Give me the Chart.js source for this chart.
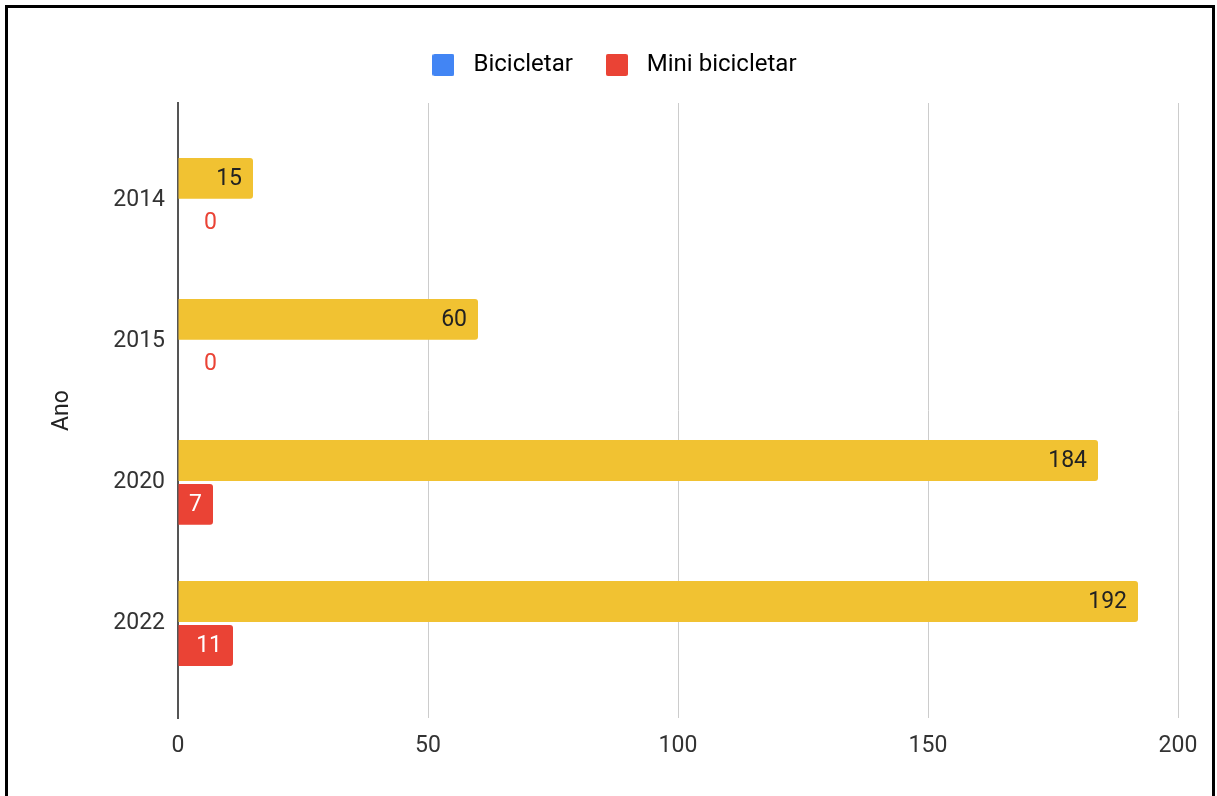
<!DOCTYPE html>
<html lang="pt-br">
<head>
  <meta charset="UTF-8" />
  <title>Bicicletar por ano</title>
  <style>
    body {
      margin: 0;
      background: #ffffff;
      font-family: Roboto, sans-serif;
    }

    .moldura {
      position: absolute;
      left: 5px;
      top: 5px;
      width: 1210px;
      height: 830px;
      border: 3px solid #000;
      box-sizing: border-box;
      pointer-events: none;
    }

    .area {
      position: absolute;
      left: 0;
      top: 0;
      width: 1217px;
      height: 796px;
    }
  </style>
</head>
<body>
  <div class="area"><canvas id="grafico"></canvas></div>
  <div class="moldura"></div>

  <script src="https://cdn.jsdelivr.net/npm/chart.js"></script>
  <script>
    const anos = ['2014', '2015', '2020', '2022'];
    const bicicletar = [15, 60, 184, 192];
    const miniBicicletar = [0, 0, 7, 11];
    const series = ['Bicicletar', 'Mini bicicletar'];

    // cor da barra, cor do quadradinho da legenda e cor do número dentro da barra
    const corBarra = ['#f1c232', '#ea4335'];
    const corLegenda = ['#4285f4', '#ea4335'];
    const corTexto = ['#222222', '#ffffff'];

    Chart.defaults.font.family = 'Roboto';
    Chart.defaults.color = '#333';

    // quadradinho da legenda desenhado num canvas pequeno
    function quadrado(cor) {
      const c = document.createElement('canvas');
      c.width = 22;
      c.height = 22;
      const g = c.getContext('2d');
      g.fillStyle = cor;
      g.beginPath();
      g.roundRect(0, 0, 22, 22, 2);
      g.fill();
      return c;
    }

    // escreve o valor na ponta de cada barra (ou do lado de fora quando não cabe)
    const rotulos = {
      id: 'rotulos',
      afterDatasetsDraw(chart) {
        const ctx = chart.ctx;
        ctx.save();
        ctx.font = '23px Roboto';
        ctx.textBaseline = 'middle';
        chart.data.datasets.forEach((ds, d) => {
          chart.getDatasetMeta(d).data.forEach((barra, i) => {
            const txt = String(ds.data[i].x);
            const w = ctx.measureText(txt).width;
            if (barra.x - barra.base >= w + 20) {
              ctx.textAlign = 'right';
              ctx.fillStyle = corTexto[d];
              ctx.fillText(txt, barra.x - 11, barra.y + 1);
            } else {
              ctx.textAlign = 'left';
              ctx.fillStyle = corBarra[d];
              ctx.fillText(txt, barra.x + 26, barra.y + 1);
            }
          });
        });
        ctx.restore();
      }
    };

    // um pouco mais de espaço entre a legenda e o gráfico
    const folgaLegenda = {
      id: 'folgaLegenda',
      beforeInit(chart) {
        const fit = chart.legend.fit;
        chart.legend.fit = function () {
          fit.call(this);
          this.height += 16;
        };
      }
    };

    new Chart(document.getElementById('grafico'), {
      type: 'bar',
      data: {
        datasets: [
          {
            label: series[0],
            data: bicicletar.map((v, i) => ({ x: v, y: i })),
            backgroundColor: corBarra[0]
          },
          {
            label: series[1],
            data: miniBicicletar.map((v, i) => ({ x: v, y: i })),
            backgroundColor: corBarra[1]
          }
        ]
      },
      options: {
        indexAxis: 'y',
        responsive: true,
        maintainAspectRatio: false,
        animation: false,
        categoryPercentage: 0.623,
        barPercentage: 0.93,
        borderRadius: 3,
        layout: { padding: { left: 44, right: 39, top: 27, bottom: 0 } },
        plugins: {
          tooltip: { enabled: false },
          legend: {
            position: 'top',
            labels: {
              usePointStyle: true,
              pointStyleWidth: 36,
              boxHeight: 22,
              padding: 26,
              color: '#222',
              font: { size: 24 },
              generateLabels: chart => chart.data.datasets.map((ds, i) => ({
                text: ds.label,
                fillStyle: corLegenda[i],
                strokeStyle: corLegenda[i],
                lineWidth: 0,
                pointStyle: quadrado(corLegenda[i]),
                datasetIndex: i
              }))
            }
          }
        },
        scales: {
          x: {
            min: 0,
            max: 200,
            ticks: { stepSize: 50, padding: 14, color: '#333', font: { size: 23 } },
            grid: { color: '#cccccc', lineWidth: 1, drawTicks: false },
            border: { display: false },
            afterFit: s => { s.height = 78; }
          },
          y: {
            type: 'linear',
            offset: false,
            reverse: true,
            min: -0.69,
            max: 3.67,
            afterBuildTicks: s => { s.ticks = anos.map((_, i) => ({ value: i })); },
            ticks: {
              padding: 13,
              color: '#333',
              font: { size: 23 },
              callback: v => anos[v]
            },
            grid: { display: false, drawTicks: false, offset: false },
            border: { display: true, color: '#555', width: 2 },
            title: {
              display: true,
              text: 'Ano',
              color: '#222',
              font: { size: 23 },
              padding: 4
            },
            afterFit: s => { s.width = 134; }
          }
        }
      },
      plugins: [rotulos, folgaLegenda]
    });
  </script>
</body>
</html>
